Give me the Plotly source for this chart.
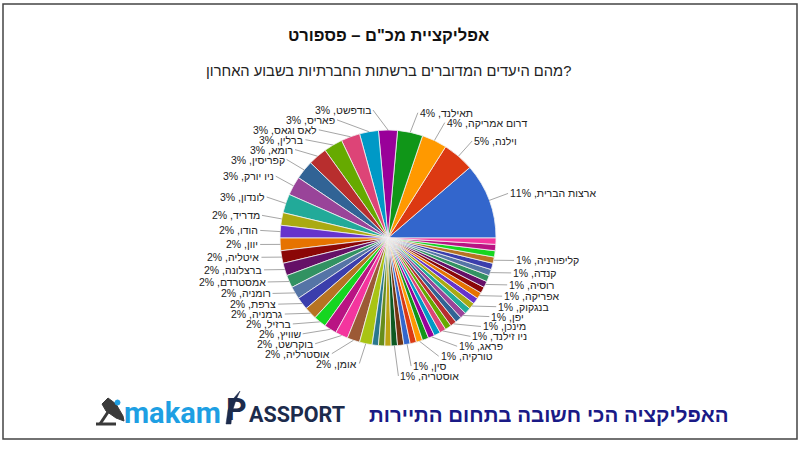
import math
import plotly.graph_objects as go

# ---------------- data ----------------
destinations = [
    "ארצות הברית", "וילנה", "דרום אמריקה", "תאילנד",
    "בודפשט", "פאריס", "לאס וגאס", "ברלין", "רומא", "קפריסין", "ניו יורק", "לונדון",
    "מדריד", "הודו", "יוון", "איטליה", "ברצלונה", "אמסטרדם", "רומניה", "צרפת",
    "גרמניה", "ברזיל", "שוויץ", "בוקרשט", "אוסטרליה", "אומן",
    "יעד נוסף 1", "יעד נוסף 2", "יעד נוסף 3", "אוסטריה", "יעד נוסף 4", "סין",
    "יעד נוסף 5", "טורקיה", "יעד נוסף 6", "פראג", "יעד נוסף 7", "ניו זילנד",
    "יעד נוסף 8", "מינכן", "יעד נוסף 9", "יפן", "יעד נוסף 10", "בנגקוק",
    "יעד נוסף 11", "אפריקה", "יעד נוסף 12", "רוסיה", "יעד נוסף 13", "קנדה",
    "יעד נוסף 14", "קליפורניה", "יעד נוסף 15", "יעד נוסף 16", "יעד נוסף 17",
]
mentions = [12, 5, 4, 4] + [3] * 8 + [2] * 14 + [1] * 29
# slices whose label is too small to be printed on the chart
unlabeled = [d for d in destinations if d.startswith("יעד נוסף")]

title_text = 'אפליקציית מכ"ם – פספורט'
subtitle_text = "מהם היעדים המדוברים ברשתות החברתיות בשבוע האחרון?"
footer_text = "האפליקציה הכי חשובה בתחום התיירות"

palette = ["#3366cc", "#dc3912", "#ff9900", "#109618", "#990099", "#0099c6",
           "#dd4477", "#66aa00", "#b82e2e", "#316395", "#994499", "#22aa99",
           "#aaaa11", "#6633cc", "#e67300", "#8b0707", "#651067", "#329262",
           "#5574a6", "#3b3eac", "#b77322", "#16d620", "#b91383", "#f4359e",
           "#9c5935", "#a9c413", "#2a778d", "#668d1c", "#bea413", "#0c5922",
           "#743411"]

# ---------------- layout geometry (pixels) ----------------
W, H = 800, 450
CX, CY, R = 388, 238, 108
FONT = "Liberation Sans, Arial, sans-serif"


def px(x):
    return x / W


def py(y):
    return 1 - y / H


colors = [palette[i % len(palette)] for i in range(len(destinations))]
total = sum(mentions)
# first slice starts at 3 o'clock and slices run counter-clockwise
first_rotation = 90 - mentions[0] / total * 360

fig = go.Figure()
fig.add_trace(go.Pie(
    labels=destinations, values=mentions, sort=False,
    direction="counterclockwise", rotation=first_rotation,
    marker=dict(colors=colors, line=dict(color="#f2f2f2", width=0.8)),
    textinfo="none", hoverinfo="label+percent", showlegend=False,
    domain=dict(x=[px(CX - R), px(CX + R)], y=[py(CY + R), py(CY - R)]),
))

# ---------------- labels with leader lines ----------------
items = []
cum = 0
for name, v in zip(destinations, mentions):
    mid = (cum + v / 2) / total * 2 * math.pi
    cum += v
    if name in unlabeled:
        continue
    s, c = math.sin(mid), math.cos(mid)
    ry = R + 20 if s > 0 else R + 1
    items.append(dict(
        text=f"{name}, {round(100 * v / total)}%",
        ax=CX + R * c, ay=CY - R * s,
        y=CY - ry * s, left=(c < 0.01),
    ))

SPACING = 9.9
for side in (True, False):
    grp = sorted([it for it in items if it["left"] == side], key=lambda d: d["y"])
    for i in range(1, len(grp)):
        grp[i]["y"] = max(grp[i]["y"], grp[i - 1]["y"] + SPACING)

annotations = []
shapes = []
RX = R + 21
for it in items:
    dy = it["y"] - CY
    dx = math.sqrt(max(RX ** 2 - dy ** 2, 0))
    if it["left"]:
        xe = min(CX - dx, it["ax"] - 5)
        xl = xe + 1
        anchor = "right"
    else:
        xe = max(CX + dx, it["ax"] + 5)
        xl = xe - 1
        anchor = "left"
    shapes.append(dict(type="line", xref="paper", yref="paper",
                       x0=px(it["ax"]), y0=py(it["ay"]), x1=px(xl), y1=py(it["y"]),
                       line=dict(color="#a6a6a6", width=1)))
    annotations.append(dict(text=it["text"], x=px(xe), y=py(it["y"]),
                            xref="paper", yref="paper", showarrow=False,
                            xanchor=anchor, yanchor="middle", borderpad=0,
                            font=dict(family=FONT, size=10.5, color="#222222")))

# ---------------- titles & footer ----------------
annotations += [
    dict(text=f"<b>{title_text}</b>", x=px(388), y=py(35), xref="paper", yref="paper",
         showarrow=False, xanchor="center", yanchor="middle",
         font=dict(family=FONT, size=16.5, color="#111111")),
    dict(text=subtitle_text, x=px(388), y=py(71), xref="paper", yref="paper",
         showarrow=False, xanchor="center", yanchor="middle",
         font=dict(family=FONT, size=14.7, color="#222222")),
    dict(text=f"<b>{footer_text}</b>", x=px(731), y=py(414), xref="paper", yref="paper",
         showarrow=False, xanchor="right", yanchor="middle",
         font=dict(family=FONT, size=20.5, color="#1a1a86")),
    dict(text="<b>makam</b>", x=px(122), y=py(413), xref="paper", yref="paper",
         showarrow=False, xanchor="left", yanchor="middle",
         font=dict(family="Roboto, " + FONT, size=29, color="#1e9fe3")),
    dict(text="<b>P</b>", x=px(224), y=py(409), xref="paper", yref="paper",
         showarrow=False, xanchor="left", yanchor="middle",
         font=dict(family="Roboto, " + FONT, size=32, color="#1c2b4c")),
    dict(text="<b>ASSPORT</b>", x=px(247), y=py(414), xref="paper", yref="paper",
         showarrow=False, xanchor="left", yanchor="middle",
         font=dict(family="Roboto, " + FONT, size=21.5, color="#1c2b4c")),
]

# border of the slide
shapes.append(dict(type="rect", xref="paper", yref="paper",
                   x0=px(3), y0=py(439), x1=px(797), y1=py(4),
                   line=dict(color="#444444", width=1.5)))


def path(points):
    return "M " + " L ".join(f"{px(x):.5f},{py(y):.5f}" for x, y in points)


# satellite dish icon
shapes.append(dict(type="path", xref="paper", yref="paper",
                   path=path([(102, 404), (108, 398), (116, 404), (123, 416),
                              (124, 421), (116, 418), (106, 411)]) + " Z",
                   fillcolor="#3a3a3a", line=dict(color="#3a3a3a", width=1)))
shapes.append(dict(type="line", xref="paper", yref="paper",
                   x0=px(108), y0=py(412), x1=px(100), y1=py(424),
                   line=dict(color="#3a3a3a", width=3)))
shapes.append(dict(type="line", xref="paper", yref="paper",
                   x0=px(96), y0=py(424), x1=px(116), y1=py(424),
                   line=dict(color="#3a3a3a", width=3)))
shapes.append(dict(type="circle", xref="paper", yref="paper",
                   x0=px(115), y0=py(405), x1=px(120), y1=py(400),
                   fillcolor="#1e9fe3", line=dict(color="#1e9fe3", width=1)))
# swoosh over the P
shapes.append(dict(type="path", xref="paper", yref="paper",
                   path=path([(226, 424), (228, 410), (234, 398), (240, 391),
                              (236, 400), (232, 412), (231, 424)]) + " Z",
                   fillcolor="#1c2b4c", line=dict(color="#1c2b4c", width=0.5)))

fig.update_layout(
    width=W, height=H, margin=dict(l=0, r=0, t=0, b=0),
    paper_bgcolor="white", plot_bgcolor="white",
    annotations=annotations, shapes=shapes,
)

fig.write_html(
    "out.html",
    config={"displayModeBar": False},
    post_script="document.body.style.margin='0';document.body.style.overflow='hidden';",
)
